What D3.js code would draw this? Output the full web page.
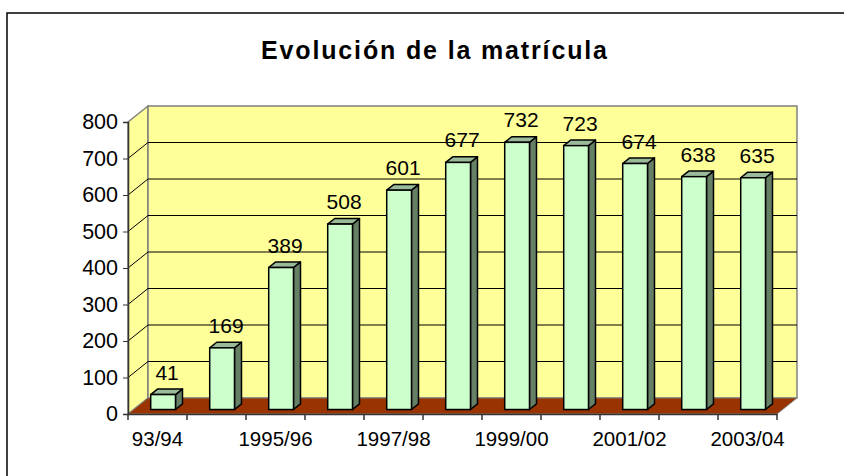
<!DOCTYPE html>
<html>
<head>
<meta charset="utf-8">
<script src="https://cdn.jsdelivr.net/npm/d3@7/dist/d3.min.js"></script>
<style>
  body { margin: 0; background: #fff; }
  text { font-family: "Liberation Sans", Arial, sans-serif; }
</style>
</head>
<body>
<div id="chart"></div>
<script>
// data
let categories = ["93/94", "94/95", "1995/96", "96/97", "1997/98", "98/99", "1999/00", "00/01", "2001/02", "02/03", "2003/04"];
let values = [41, 169, 389, 508, 601, 677, 732, 723, 674, 638, 635];
let shownLabels = ["93/94", "1995/96", "1997/98", "1999/00", "2001/02", "2003/04"];
let yTicks = [0, 100, 200, 300, 400, 500, 600, 700, 800];
let title = "Evolución de la matrícula";

let w = 844, h = 476;
let depth = {dx: 20, dy: -16};

let svg = d3.select("#chart").append("svg")
  .attr("width", w)
  .attr("height", h);

// outer frame
svg.append("rect")
  .attr("x", 7).attr("y", 13)
  .attr("width", 900).attr("height", 600)
  .attr("fill", "none")
  .attr("stroke", "#000")
  .attr("stroke-width", 1.5);

svg.append("text")
  .attr("x", 434).attr("y", 59)
  .attr("text-anchor", "middle")
  .attr("font-size", 25)
  .attr("font-weight", "bold")
  .attr("textLength", 346)
  .attr("lengthAdjust", "spacing")
  .text(title);

let x = d3.scaleBand().domain(categories).range([128, 777]).padding(0);
let y = d3.scaleLinear().domain([0, 800]).range([414, 122]);

let x0 = x.range()[0], x1 = x.range()[1];
let yb = y(0), yt = y(800);

// side wall (left)
svg.append("path")
  .attr("d", `M${x0},${yt} L${x0 + depth.dx},${yt + depth.dy} L${x0 + depth.dx},${yb + depth.dy} L${x0},${yb} Z`)
  .attr("fill", "#FFFF99")
  .attr("stroke", "#808080")
  .attr("stroke-width", 1.5);

// back wall
svg.append("rect")
  .attr("x", x0 + depth.dx)
  .attr("y", yt + depth.dy)
  .attr("width", x1 - x0)
  .attr("height", yb - yt)
  .attr("fill", "#FFFF99")
  .attr("stroke", "#808080")
  .attr("stroke-width", 1.5);

// gridlines on side wall and back wall
yTicks.slice(1, -1).forEach((t) => {
  svg.append("path")
    .attr("d", `M${x0},${y(t)} L${x0 + depth.dx},${y(t) + depth.dy} L${x1 + depth.dx},${y(t) + depth.dy}`)
    .attr("fill", "none")
    .attr("stroke", "#000")
    .attr("stroke-width", 1);
});

// floor
svg.append("path")
  .attr("d", `M${x0},${yb} L${x1},${yb} L${x1 + depth.dx},${yb + depth.dy} L${x0 + depth.dx},${yb + depth.dy} Z`)
  .attr("fill", "#993300")
  .attr("stroke", "#808080")
  .attr("stroke-width", 1);

// axes
let yAxis = d3.axisLeft(y).tickValues(yTicks).tickSize(5).tickPadding(5);
svg.append("g")
  .attr("transform", `translate(${x0},0)`)
  .call(yAxis)
  .call((g) => {
    g.select(".domain").attr("stroke", "#333").attr("stroke-width", 1.5);
    g.selectAll(".tick line").attr("stroke", "#333");
    g.selectAll("text").attr("font-size", 21.5).attr("font-family", "Liberation Sans, Arial, sans-serif").attr("fill", "#000");
  });

let xAxis = d3.axisBottom(x).tickSize(0).tickPadding(17)
  .tickFormat((d) => shownLabels.includes(d) ? d : "");
svg.append("g")
  .attr("transform", `translate(0,${yb})`)
  .call(xAxis)
  .call((g) => {
    g.select(".domain").attr("stroke", "#333").attr("stroke-width", 1.5);
    g.selectAll("text").attr("font-size", 20.5).attr("font-family", "Liberation Sans, Arial, sans-serif").attr("fill", "#000");
  });

// tick marks at band edges
let edges = categories.map((c) => x(c)).concat([x1]);
svg.append("g").selectAll("line")
  .data(edges)
  .enter()
  .append("line")
  .attr("x1", (d) => d).attr("x2", (d) => d)
  .attr("y1", yb).attr("y2", yb + 6)
  .attr("stroke", "#333")
  .attr("stroke-width", 1.5);

// bars
let bw = x.bandwidth() * 0.42;
let f0 = 0.28, f1 = 0.63;
let fdx = depth.dx * f0, fdy = depth.dy * f0;
let sdx = depth.dx * (f1 - f0), sdy = depth.dy * (f1 - f0);

let bars = svg.append("g").selectAll("g")
  .data(values)
  .enter()
  .append("g");

bars.each(function (d, i) {
  let g = d3.select(this);
  let left = x(categories[i]) + x.bandwidth() / 2 - bw / 2 + fdx;
  let right = left + bw;
  let top = y(d) + fdy;
  let bottom = y(0) + fdy;

  // side
  g.append("path")
    .attr("d", `M${right},${top} L${right + sdx},${top + sdy} L${right + sdx},${bottom + sdy} L${right},${bottom} Z`)
    .attr("fill", "#668066")
    .attr("stroke", "#000")
    .attr("stroke-width", 1.5)
    .attr("stroke-linejoin", "round");
  // top
  g.append("path")
    .attr("d", `M${left},${top} L${left + sdx},${top + sdy} L${right + sdx},${top + sdy} L${right},${top} Z`)
    .attr("fill", "#99BB99")
    .attr("stroke", "#000")
    .attr("stroke-width", 1.5)
    .attr("stroke-linejoin", "round");
  // front
  g.append("rect")
    .attr("x", left).attr("y", top)
    .attr("width", bw).attr("height", bottom - top)
    .attr("fill", "#CCFFCC")
    .attr("stroke", "#000")
    .attr("stroke-width", 1.5);

  g.append("text")
    .attr("x", left + bw / 2 + 4)
    .attr("y", top - 15)
    .attr("text-anchor", "middle")
    .attr("font-size", 21)
    .text(d);
});
</script>
</body>
</html>
